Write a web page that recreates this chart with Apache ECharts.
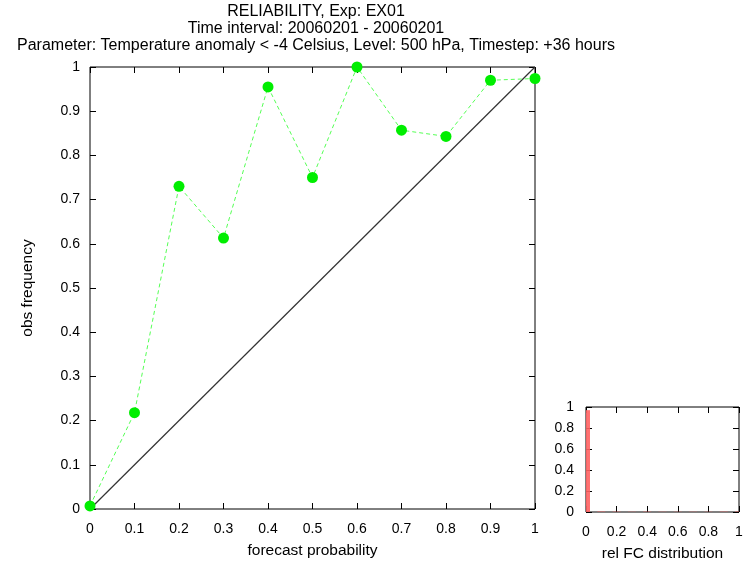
<!DOCTYPE html>
<html>
<head>
<meta charset="utf-8">
<script src="https://cdn.jsdelivr.net/npm/echarts@6/dist/echarts.min.js"></script>
<style>
  html, body { margin: 0; padding: 0; background: #fff; }
  #chart { width: 753px; height: 564px; }
</style>
</head>
<body>
<div id="chart"></div>
<script>
// Reliability diagram: forecast probability bins vs. observed frequency
const titleLines = [
  'RELIABILITY, Exp: EX01',
  'Time interval: 20060201 - 20060201',
  'Parameter: Temperature anomaly < -4 Celsius, Level: 500 hPa, Timestep: +36 hours'
];
const probBins = [0, 0.1, 0.2, 0.3, 0.4, 0.5, 0.6, 0.7, 0.8, 0.9, 1.0];
const obsFrequency = [0.007, 0.218, 0.730, 0.613, 0.955, 0.750, 1.0, 0.857, 0.843, 0.970, 0.974];
// relative distribution of the forecasts over the probability bins
const fcDistribution = [0.97, 0.004, 0.003, 0.002, 0.003, 0.002, 0.002, 0.002, 0.002, 0.003, 0.004];

const FONT = 'Liberation Sans, Arial, sans-serif';
const chart = echarts.init(document.getElementById('chart'), null, { renderer: 'canvas' });

function fmt(v) { return String(Math.round(v * 10) / 10); }

// value axis 0..1 with inward ticks; the frame itself is the grid border
function valueAxis(gridIndex, pos, step, showLabels, extra) {
  return Object.assign({
    type: 'value', gridIndex: gridIndex, position: pos,
    min: 0, max: 1, interval: step,
    axisLine: { show: false, onZero: false },
    axisTick: { show: true, inside: true, length: 6, lineStyle: { color: '#000', width: 1 } },
    axisLabel: { show: showLabels, color: '#000', fontSize: 14, fontFamily: FONT, margin: 13, formatter: fmt },
    splitLine: { show: false }
  }, extra || {});
}

const nameStyle = { color: '#000', fontSize: 15.5, fontFamily: FONT };

// histogram bar centred on its bin, cut off at the frame of its grid
function renderHistBar(params, api) {
  const cs = params.coordSys;
  const top = api.coord([api.value(0), api.value(1)]);
  const base = api.coord([api.value(0), 0]);
  const half = 4;
  const x0 = Math.max(cs.x, top[0] - half);
  const x1 = Math.min(cs.x + cs.width, top[0] + half);
  return {
    type: 'rect',
    shape: { x: x0, y: top[1], width: x1 - x0, height: base[1] - top[1] },
    style: { fill: '#ff6262', opacity: 0.9 }
  };
}

const option = {
  animation: false,
  backgroundColor: '#fff',
  title: {
    text: titleLines.join('\n'),
    left: 311, top: -2, textAlign: 'center',
    textStyle: { color: '#000', fontSize: 16, fontWeight: 'normal', fontFamily: FONT, lineHeight: 17 }
  },
  grid: [
    { left: 90, top: 67, width: 445, height: 445, show: true, borderColor: '#000', borderWidth: 1, backgroundColor: 'transparent' },
    { left: 586, top: 407, width: 153, height: 105, show: true, borderColor: '#000', borderWidth: 1, backgroundColor: 'transparent' }
  ],
  xAxis: [
    valueAxis(0, 'bottom', 0.1, true, {
      name: 'forecast probability', nameLocation: 'middle', nameGap: 34, nameTextStyle: nameStyle
    }),
    valueAxis(0, 'top', 0.1, false),
    valueAxis(1, 'bottom', 0.2, true, {
      name: 'rel FC distribution', nameLocation: 'middle', nameGap: 34, nameTextStyle: nameStyle
    }),
    valueAxis(1, 'top', 0.2, false)
  ],
  yAxis: [
    valueAxis(0, 'left', 0.1, true, {
      name: 'obs frequency', nameLocation: 'middle', nameGap: 54, nameTextStyle: nameStyle,
      axisLabel: { show: true, color: '#000', fontSize: 14, fontFamily: FONT, margin: 10, formatter: fmt }
    }),
    valueAxis(0, 'right', 0.1, false),
    valueAxis(1, 'left', 0.2, true, {
      axisLabel: { show: true, color: '#000', fontSize: 14, fontFamily: FONT, margin: 12, formatter: fmt }
    }),
    valueAxis(1, 'right', 0.2, false)
  ],
  series: [
    {
      // perfect reliability diagonal
      type: 'line', xAxisIndex: 0, yAxisIndex: 0,
      data: [[0, 0], [1, 1]],
      symbol: 'none', silent: true,
      lineStyle: { color: '#333', width: 1.2 }, z: 2
    },
    {
      type: 'line', xAxisIndex: 0, yAxisIndex: 0,
      data: probBins.map((p, i) => [p, obsFrequency[i]]),
      symbol: 'circle', symbolSize: 11, clip: false,
      itemStyle: { color: '#00ee00' },
      lineStyle: { color: '#55ff55', width: 1, type: [4, 3] }, z: 3
    },
    {
      type: 'custom', xAxisIndex: 2, yAxisIndex: 2,
      data: probBins.map((p, i) => [p, fcDistribution[i]]),
      renderItem: renderHistBar,
      encode: { x: 0, y: 1 }
    }
  ]
};
chart.setOption(option);
</script>
</body>
</html>
